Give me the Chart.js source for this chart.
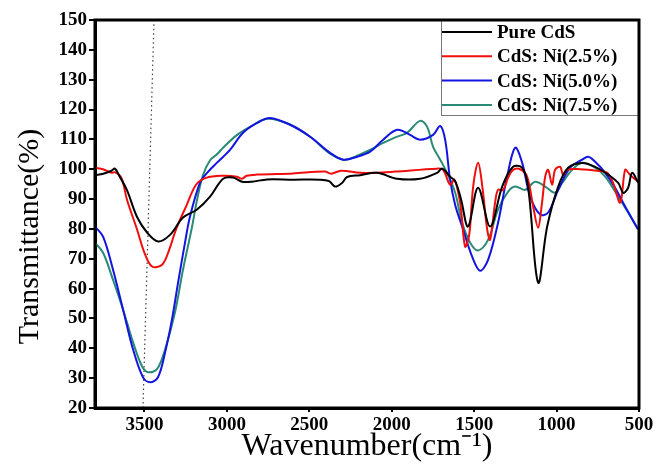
<!DOCTYPE html>
<html>
<head>
<meta charset="utf-8">
<script src="https://cdn.jsdelivr.net/npm/chart.js@4/dist/chart.umd.min.js"></script>
<style>
    html, body { margin: 0; padding: 0; background: #fff; }
    #wrap { width: 656px; height: 468px; position: relative; }
</style>
</head>
<body>
<div id="wrap"><canvas id="ftirChart"></canvas></div>
<script>
// axis ticks
const xTicks = [3500, 3000, 2500, 2000, 1500, 1000, 500];
const yMin = 20, yMax = 150, yStep = 10;
const seriesLabels = ['Pure CdS', 'CdS: Ni(2.5%)', 'CdS: Ni(5.0%)', 'CdS: Ni(7.5%)'];

// Pure CdS
const pureWave = [3800, 3750, 3700, 3679, 3650, 3606, 3545, 3484, 3418, 3345, 3266, 3181, 3102, 3023, 2963, 2908, 2850, 2756, 2600, 2435, 2380, 2344, 2300, 2271, 2192, 2089, 1967, 1828, 1725, 1694, 1646, 1615, 1580, 1537, 1476, 1403, 1330, 1264, 1209, 1173, 1112, 1057, 990, 930, 845, 766, 687, 626, 596, 566, 542, 505];
const pureT = [98, 98.5, 99.5, 100.2, 97.5, 93, 84, 78.8, 75.8, 78, 83.8, 86.5, 90.8, 96.8, 97.2, 95.8, 95.8, 96.6, 96.5, 96.5, 96, 94.2, 95.5, 97.4, 98, 98.8, 96.8, 96.8, 98.8, 100.2, 97.5, 96, 90, 80.8, 93.8, 80.8, 94.2, 100.8, 100.5, 94.2, 62, 80.8, 94.2, 100.5, 102.1, 100.8, 98.2, 95.4, 92.1, 93.8, 98.8, 95.5];

// CdS: Ni(2.5%)
const ni25Wave = [3800, 3751, 3700, 3680, 3640, 3606, 3545, 3500, 3454, 3393, 3350, 3309, 3248, 3187, 3127, 3023, 2938, 2908, 2880, 2817, 2600, 2405, 2368, 2308, 2192, 2100, 1980, 1725, 1688, 1646, 1620, 1585, 1555, 1530, 1506, 1476, 1450, 1421, 1403, 1373, 1355, 1325, 1294, 1264, 1221, 1179, 1142, 1112, 1090, 1069, 1051, 1027, 1009, 978, 960, 936, 857, 754, 693, 657, 614, 584, 560, 542, 505];
const ni25T = [100.5, 100, 98.8, 99, 97.1, 89.8, 79.8, 72, 67.4, 68, 73, 79.8, 87.5, 94.8, 97.1, 97.8, 97.5, 96.8, 97.8, 98.2, 98.6, 99.2, 98.5, 99.5, 98.8, 98.8, 99.2, 100.2, 99.8, 94.8, 96.5, 88.8, 74.1, 78, 94.2, 102.2, 94, 79.8, 76.4, 88.8, 93.1, 93, 97.1, 99.8, 100, 97.5, 87.5, 80.4, 88, 97.5, 99.8, 94.8, 99.8, 100.8, 98, 99.8, 100, 99.5, 98.8, 95.4, 88.8, 99.8, 98.5, 97.5, 95.8];

// CdS: Ni(5.0%)
const ni50Wave = [3800, 3751, 3691, 3630, 3569, 3509, 3466, 3418, 3375, 3333, 3296, 3254, 3224, 3163, 3120, 3060, 2981, 2902, 2817, 2738, 2617, 2495, 2374, 2295, 2210, 2131, 2052, 1967, 1889, 1828, 1749, 1706, 1676, 1646, 1615, 1573, 1512, 1464, 1415, 1355, 1300, 1251, 1209, 1160, 1100, 1051, 990, 918, 845, 808, 766, 705, 645, 584, 505];
const ni50T = [80.8, 77.4, 66.4, 53, 39.6, 30.3, 28.6, 30.3, 38.6, 49.7, 62, 75.4, 84.1, 95.5, 98.8, 102.2, 106.5, 112.2, 115.5, 117.2, 114.9, 110.9, 105.5, 103.2, 104.2, 105.9, 109.9, 113.2, 111.5, 109.9, 111.5, 114.5, 109.9, 96.5, 88, 80.8, 70.7, 66, 69.7, 82.1, 97.5, 107.2, 102.2, 90.8, 84.8, 85.5, 93.1, 100.5, 103.2, 104.2, 102.5, 98.8, 93.8, 87.5, 79.8];

// CdS: Ni(7.5%)
const ni75Wave = [3800, 3751, 3691, 3630, 3569, 3515, 3478, 3424, 3375, 3315, 3266, 3211, 3180, 3145, 3102, 3060, 3023, 2938, 2859, 2756, 2617, 2495, 2374, 2295, 2253, 2131, 2052, 1967, 1907, 1828, 1785, 1749, 1706, 1664, 1615, 1573, 1524, 1476, 1415, 1355, 1294, 1251, 1191, 1130, 1069, 1009, 966, 906, 845, 766, 705, 626, 566, 505];
const ni75T = [75.4, 72, 63, 53, 42, 34, 32, 33, 39.6, 52, 66.4, 80.8, 90, 98, 103, 105, 107.2, 111.5, 114.2, 116.9, 115, 110.9, 105.2, 103.2, 103.5, 106.5, 108.8, 110.9, 112.2, 116.2, 114.2, 107.5, 103.2, 98.8, 92.1, 82.1, 75.4, 72.8, 76.4, 86.5, 92.5, 94.2, 93.1, 95.8, 94.2, 92.1, 95.4, 99.8, 102.2, 100.5, 97.5, 90.8, 85.5, 79.8];

// dotted guide line near 3500
const guideWave = [3509, 3442];
const guideT = [20, 150];

const colors = ['#000000', '#f20d0d', '#1414e0', '#2a8a76'];

function toPoints(xs, ys) {
    return xs.map((x, i) => ({ x: x, y: ys[i] }));
}

// legend drawn inside the plot frame, top right
const boxLegend = {
    id: 'boxLegend',
    afterDatasetsDraw(chart) {
        const { ctx, chartArea } = chart;
        const right = chartArea.right;
        const left = right - 198;
        const top = chartArea.top - 1;
        ctx.save();
        ctx.strokeStyle = '#777';
        ctx.lineWidth = 1;
        ctx.fillStyle = '#fff';
        ctx.fillRect(left, top, right - left, 96);
        ctx.strokeRect(left + 0.5, top + 0.5, right - left, 96);
        ctx.font = 'bold 19px "Liberation Serif"';
        ctx.textBaseline = 'middle';
        seriesLabels.forEach((label, i) => {
            const y = top + 13 + i * 24.3;
            ctx.strokeStyle = colors[i];
            ctx.lineWidth = 2;
            ctx.beginPath();
            ctx.moveTo(left + 1, y);
            ctx.lineTo(left + 51, y);
            ctx.stroke();
            ctx.fillStyle = '#000';
            ctx.fillText(label, left + 56, y + 1);
        });
        ctx.restore();
    }
};

// thick frame on all four sides
const frame = {
    id: 'frame',
    afterDraw(chart) {
        const { ctx, chartArea } = chart;
        ctx.save();
        ctx.strokeStyle = '#000';
        ctx.lineWidth = 3;
        ctx.strokeRect(chartArea.left, chartArea.top, chartArea.right - chartArea.left, chartArea.bottom - chartArea.top);
        ctx.restore();
    }
};

const lineStyle = { showLine: true, pointRadius: 0, borderWidth: 2, tension: 0.35, fill: false };

new Chart(document.getElementById('ftirChart'), {
    type: 'scatter',
    data: {
        datasets: [
            { label: seriesLabels[0], data: toPoints(pureWave, pureT), borderColor: colors[0], ...lineStyle },
            { label: seriesLabels[1], data: toPoints(ni25Wave, ni25T), borderColor: colors[1], ...lineStyle },
            { label: seriesLabels[2], data: toPoints(ni50Wave, ni50T), borderColor: colors[2], ...lineStyle },
            { label: seriesLabels[3], data: toPoints(ni75Wave, ni75T), borderColor: colors[3], ...lineStyle },
            { label: 'guide', data: toPoints(guideWave, guideT), borderColor: '#444', borderWidth: 1.2, borderDash: [1.5, 3], showLine: true, pointRadius: 0, tension: 0 }
        ]
    },
    options: {
        responsive: true,
        maintainAspectRatio: false,
        animation: false,
        layout: { padding: { top: 20, right: 17, left: 0, bottom: 0 } },
        plugins: { legend: { display: false }, tooltip: { enabled: false } },
        scales: {
            x: {
                type: 'linear',
                reverse: true,
                min: 500,
                max: 3800,
                afterBuildTicks: (scale) => { scale.ticks = xTicks.map(v => ({ value: v })); },
                afterFit: (scale) => { scale.height = 60; },
                grid: { drawOnChartArea: false, tickLength: 4, color: '#000', lineWidth: 2 },
                border: { display: true, color: '#000', width: 3 },
                ticks: { color: '#000', font: { family: 'Liberation Serif', weight: 'bold', size: 19 }, padding: 2, maxRotation: 0, callback: (v) => String(v) },
                title: { display: true, text: 'Wavenumber(cm\u207B\u00B9)', color: '#000', font: { family: 'Liberation Serif', size: 32, lineHeight: 1.2 }, padding: { top: 0, bottom: 2 } }
            },
            y: {
                min: yMin,
                max: yMax,
                ticks: { stepSize: yStep, color: '#000', font: { family: 'Liberation Serif', weight: 'bold', size: 19 }, padding: 2 },
                afterFit: (scale) => { scale.width = 95; },
                grid: { drawOnChartArea: false, tickLength: 6, color: '#000', lineWidth: 2 },
                border: { display: true, color: '#000', width: 3 },
                // trailing spaces push the rotated title a little lower, as in the original
                title: { display: true, text: 'Transmittance(%)\u00A0\u00A0\u00A0\u00A0\u00A0\u00A0', color: '#000', font: { family: 'Liberation Serif', size: 30, lineHeight: 1.2 }, padding: { top: 12, bottom: 0 } }
            }
        }
    },
    plugins: [boxLegend, frame]
});
</script>
</body>
</html>
